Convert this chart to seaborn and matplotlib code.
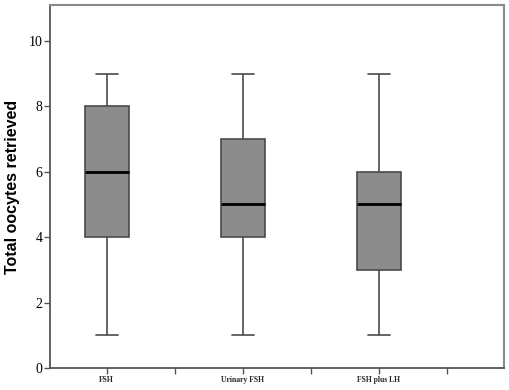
import numpy as np
import pandas as pd
import matplotlib
matplotlib.use("Agg")
import matplotlib.pyplot as plt
import seaborn as sns

# five-number summaries (min, q1, median, q3, max)
groups = ["FSH", "Urinary FSH", "FSH plus LH"]
fsh = [1, 4, 6, 8, 9]
urinary_fsh = [1, 4, 5, 7, 9]
fsh_plus_lh = [1, 3, 5, 6, 9]

df = pd.DataFrame({
    "group": np.repeat(groups, 5),
    "oocytes": fsh + urinary_fsh + fsh_plus_lh,
})

sns.set_style("white")
fig = plt.figure(figsize=(5.1, 3.9), dpi=100)
ax = fig.add_axes([50/510, 22/390, 454/510, 363/390])

sns.boxplot(data=df, x="group", y="oocytes", order=groups, ax=ax,
            width=0.32, whis=(0, 100), color="#8c8c8c", saturation=1,
            linewidth=1.2, linecolor="#4a4a4a",
            medianprops=dict(color="black", linewidth=2))

ax.set_xlim(-0.417, 2.92)
ax.set_ylim(0, 11.1)
ax.set_yticks([0, 2, 4, 6, 8, 10])
ax.set_xticks([0, 0.5, 1, 1.5, 2, 2.5])
ax.set_xticklabels(["FSH", "", "Urinary FSH", "", "FSH plus LH", ""],
                   family="Liberation Serif", fontsize=5.5, fontweight="bold")
for lab in ax.get_yticklabels():
    lab.set_family("Liberation Serif")
    lab.set_fontsize(10)
    lab.set_color("black")
ax.tick_params(axis="both", which="both", direction="out", length=4,
               width=1, color="#555555", pad=1.5, bottom=True, left=True)
ax.set_xlabel("")
ax.set_ylabel("Total oocytes retrieved", family="Liberation Sans",
              fontweight="bold", fontsize=11.5, labelpad=6, color="black")
for side in ["left", "bottom"]:
    ax.spines[side].set_color("#555555")
    ax.spines[side].set_linewidth(1.3)
for side in ["top", "right"]:
    ax.spines[side].set_color("#8a8a8a")
    ax.spines[side].set_linewidth(1.5)

plt.savefig("out.png", dpi=100)
